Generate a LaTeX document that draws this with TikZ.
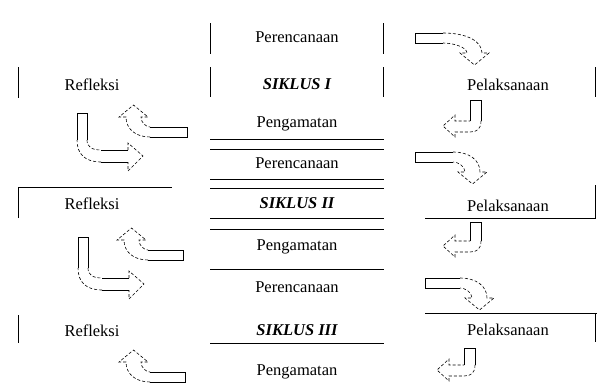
\documentclass[tikz,border=0pt]{standalone}
\usepackage{fontspec}
\setmainfont{Liberation Serif}

% Hook arrow: straight shaft of length #2 running into a bend of reach #3,
% head pointing down (before the transform #1 is applied).
\newcommand{\hookarrow}[3]{%
  \begin{scope}[#1]
    \fill[white] (-#2,0) -- (0,0) .. controls ({0.6*#3},0) and (#3,8) .. (#3,20)
      -- ({#3+7},20) -- ({#3-7.5},32) -- ({#3-22},20) -- ({#3-15},20)
      .. controls ({#3-15},14) and ({0.4*(#3-15)},10) .. (0,10) -- (-#2,10) -- cycle;
    \draw[solidedge] (0,0) -- (-#2,0) -- (-#2,10) -- (0,10);
    \draw[dashedge] (0,0) .. controls ({0.6*#3},0) and (#3,8) .. (#3,20)
      -- ({#3+7},20) -- ({#3-7.5},32) -- ({#3-22},20) -- ({#3-15},20)
      .. controls ({#3-15},14) and ({0.4*(#3-15)},10) .. (0,10);
  \end{scope}}

% Elbow arrow: shaft going down by #2, then turning left.
\newcommand{\elbowleft}[2]{%
  \begin{scope}[shift={#1}]
    \fill[white] (0,0) -- (11,0) -- (11,#2) .. controls (11,#2+8) and (7,#2+11) .. (0,#2+11)
      -- (-15,#2+11) -- (-15,#2+16) -- (-27,#2+5) -- (-15,#2-6) -- (-15,#2) -- (0,#2) -- cycle;
    \draw[solidedge] (0,#2) -- (0,0) -- (11,0) -- (11,#2);
    \draw[dashedge] (11,#2) .. controls (11,#2+8) and (7,#2+11) .. (0,#2+11)
      -- (-15,#2+11) -- (-15,#2+16) -- (-27,#2+5) -- (-15,#2-6) -- (-15,#2) -- (0,#2);
  \end{scope}}

% Elbow arrow: shaft going down by #2, then turning right.
\newcommand{\elbowright}[2]{%
  \begin{scope}[shift={#1}]
    \fill[white] (0,0) -- (10,0) -- (10,#2-10) .. controls (10,#2-3) and (15,#2) .. (24,#2)
      -- (51,#2) -- (51,#2-7) -- (66,#2+6) -- (51,#2+21) -- (51,#2+12) -- (24,#2+12)
      .. controls (8,#2+12) and (0,#2+4) .. (0,#2-10) -- cycle;
    \draw[solidedge] (0,#2-10) -- (0,0) -- (10,0) -- (10,#2-10);
    \draw[solidedge] (24,#2) -- (51,#2) (51,#2+12) -- (24,#2+12);
    \draw[dashedge] (10,#2-10) .. controls (10,#2-3) and (15,#2) .. (24,#2);
    \draw[dashedge] (51,#2) -- (51,#2-7) -- (66,#2+6) -- (51,#2+21) -- (51,#2+12);
    \draw[dashedge] (24,#2+12) .. controls (8,#2+12) and (0,#2+4) .. (0,#2-10);
  \end{scope}}

\begin{document}
\begin{tikzpicture}[x=1pt,y=-1pt,
  rule/.style={line width=1pt},
  solidedge/.style={line width=0.8pt},
  dashedge/.style={line width=0.6pt, densely dashed},
  lbl/.style={inner sep=0pt, anchor=center, font=\fontsize{16.5}{16.5}\selectfont},
  cyc/.style={lbl, font=\fontsize{16.5}{16.5}\selectfont\bfseries\itshape}]
\useasboundingbox[fill=white] (0,0) rectangle (597,383);

% --- centre column labels
\node[lbl] (plan1) at (297,37)  {Perencanaan};
\node[cyc] (cyc1)  at (297,84)  {SIKLUS I};
\node[lbl] (obs1)  at (297,124) {Pengamatan};
\node[lbl] (plan2) at (297,163) {Perencanaan};
\node[cyc] (cyc2)  at (297,203) {SIKLUS II};
\node[lbl] (obs2)  at (297,247) {Pengamatan};
\node[lbl] (plan3) at (297,287) {Perencanaan};
\node[cyc] (cyc3)  at (297,330) {SIKLUS III};
\node[lbl] (obs3)  at (297,372) {Pengamatan};

% --- side labels
\node[lbl] (ref1) at (92,85)   {Refleksi};
\node[lbl] (ref2) at (92,204)  {Refleksi};
\node[lbl] (ref3) at (92,331)  {Refleksi};
\node[lbl] (act1) at (508,85)  {Pelaksanaan};
\node[lbl] (act2) at (508,206) {Pelaksanaan};
\node[lbl] (act3) at (508,330) {Pelaksanaan};

% --- cell borders, cycle I
\draw[rule] (210,23) -- (210,54) (383,23) -- (383,54);
\draw[rule] (210,67) -- (210,97) (383,67) -- (383,97);
\draw[rule] (18,67) -- (18,98) (595,67) -- (595,97);
\draw[rule] (210,139) -- (384,139) (210,149) -- (384,149);

% --- cell borders, cycle II
\draw[rule] (210,179) -- (384,179) (210,188) -- (384,188);
\draw[rule] (210,218) -- (384,218) (210,229) -- (384,229);
\draw[rule] (18,218) -- (18,187) -- (172,187);
\draw[rule] (425,218) -- (595,218) -- (595,185);

% --- cell borders, cycle III
\draw[rule] (210,269) -- (384,269);
\draw[rule] (210,343) -- (384,343);
\draw[rule] (18,315) -- (18,343);
\draw[rule] (425,313) -- (597,313) (595,313) -- (595,342);

% --- Perencanaan -> Pelaksanaan
\hookarrow{shift={(443,33)}}{28}{39}
\hookarrow{shift={(453,152)}}{38}{27}
\hookarrow{shift={(460,278)}}{35}{27}

% --- Pelaksanaan -> Pengamatan
\elbowleft{(470,100)}{21}
\elbowleft{(470,222)}{19}
\elbowleft{(464,348)}{17}

% --- Pengamatan -> Refleksi
\hookarrow{shift={(150,137)},rotate=180}{37}{24}
\hookarrow{shift={(148,260)},rotate=180}{35}{24}
\hookarrow{shift={(150,382)},rotate=180}{35}{24}

% --- Refleksi -> Perencanaan
\elbowright{(77,113)}{37}
\elbowright{(78,237)}{41}
\end{tikzpicture}
\end{document}
